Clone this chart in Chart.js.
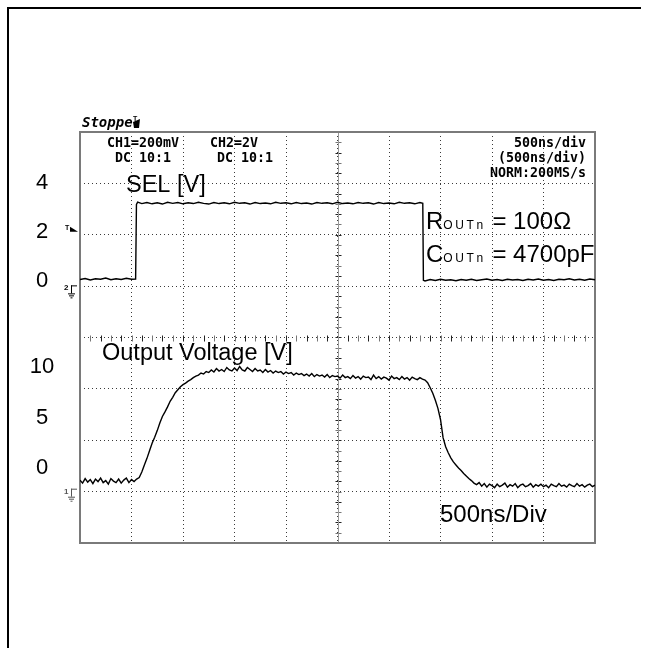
<!DOCTYPE html>
<html>
<head>
<meta charset="utf-8">
<script src="https://cdn.jsdelivr.net/npm/chart.js@4.4.1/dist/chart.umd.min.js"></script>
<style>
html,body{margin:0;padding:0;background:#fff;}
canvas{display:block;}
</style>
</head>
<body>
<canvas id="c" width="649" height="648"></canvas>
<script>
// ---- data (time in ns, 500 ns/div, 10 divisions) ----
const selTime = [0,50,100,150,200,250,300,350,400,450,500,540,548,560,600,650,700,750,800,850,900,950,1000,1050,1100,1150,1200,1250,1300,1350,1400,1450,1500,1550,1600,1650,1700,1750,1800,1850,1900,1950,2000,2050,2100,2150,2200,2250,2300,2350,2400,2450,2500,2550,2600,2650,2700,2750,2800,2850,2900,2950,3000,3050,3100,3150,3200,3250,3300,3328,3334,3350,3400,3450,3500,3550,3600,3650,3700,3750,3800,3850,3900,3950,4000,4050,4100,4150,4200,4250,4300,4350,4400,4450,4500,4550,4600,4650,4700,4750,4800,4850,4900,4950,5000];
const selVolt = [0.06,0.10,0.04,0.09,0.07,0.12,0.05,0.09,0.06,0.11,0.07,0.08,3.12,3.22,3.16,3.20,3.15,3.19,3.14,3.21,3.17,3.20,3.15,3.19,3.16,3.21,3.17,3.14,3.20,3.16,3.19,3.15,3.21,3.17,3.19,3.14,3.20,3.16,3.18,3.15,3.21,3.17,3.19,3.15,3.20,3.16,3.18,3.14,3.20,3.17,3.19,3.15,3.21,3.16,3.18,3.15,3.20,3.17,3.19,3.14,3.20,3.16,3.18,3.15,3.21,3.17,3.19,3.15,3.20,3.17,0.03,0.00,0.06,0.02,0.07,0.03,0.05,0.01,0.06,0.03,0.07,0.02,0.05,0.08,0.03,0.06,0.02,0.07,0.04,0.06,0.02,0.07,0.04,0.08,0.03,0.06,0.02,0.07,0.05,0.09,0.04,0.07,0.03,0.08,0.05];

// output voltage samples: [time ns, volts]
const outSamples = [
 [0,-1.20],[25,-1.50],[50,-1.05],[75,-1.40],[100,-1.15],[125,-1.55],[150,-1.10],[175,-1.35],[200,-1.00],[225,-1.45],
 [250,-1.25],[275,-1.60],[300,-1.05],[325,-1.30],[350,-1.45],[375,-1.10],[400,-1.50],[425,-1.20],[450,-1.00],[475,-1.45],
 [500,-1.15],[525,-1.35],[550,-1.10],[575,-0.95],[600,-0.40],[625,0.30],[650,0.95],[675,1.70],[700,2.45],[725,3.05],
 [750,3.70],[775,4.45],[800,5.10],[825,5.55],[850,6.05],[875,6.60],[900,7.00],[925,7.45],[950,7.75],[975,8.05],
 [1000,8.25],[1025,8.40],[1050,8.60],[1075,8.75],[1100,8.95],[1125,9.10],[1150,9.20],[1175,9.40],[1200,9.30],[1225,9.55],
 [1250,9.45],[1275,9.70],[1300,9.50],[1325,9.85],[1350,9.60],[1375,9.75],[1400,9.55],[1425,9.95],[1450,9.70],[1475,9.60],
 [1500,9.90],[1525,9.65],[1550,10.05],[1575,9.70],[1600,9.60],[1625,9.95],[1650,9.75],[1675,9.55],[1700,9.85],[1725,9.60],
 [1750,9.70],[1775,9.45],[1800,9.75],[1825,9.50],[1850,9.65],[1875,9.40],[1900,9.60],[1925,9.45],[1950,9.55],[1975,9.30],
 [2000,9.50],[2025,9.35],[2050,9.45],[2075,9.20],[2100,9.40],[2125,9.25],[2150,9.35],[2175,9.15],[2200,9.30],[2225,9.10],
 [2250,9.35],[2275,9.05],[2300,9.25],[2325,9.10],[2350,9.20],[2375,9.00],[2400,9.25],[2425,8.95],[2450,9.15],[2475,9.05],
 [2500,9.10],[2525,8.90],[2550,9.20],[2575,8.95],[2600,9.05],[2625,8.85],[2650,9.15],[2675,8.90],[2700,9.05],[2725,8.80],
 [2750,9.10],[2775,8.95],[2800,9.00],[2825,8.75],[2850,9.20],[2875,8.85],[2900,9.05],[2925,8.80],[2950,9.00],[2975,8.90],
 [3000,8.70],[3025,9.10],[3050,8.85],[3075,8.95],[3100,8.75],[3125,9.05],[3150,8.80],[3175,8.95],[3200,8.70],[3225,9.00],
 [3250,8.85],[3275,8.75],[3300,8.95],[3325,8.80],[3350,8.70],[3375,8.45],[3400,7.95],[3425,7.40],[3450,6.70],[3475,5.90],
 [3500,4.80],[3525,3.00],[3550,2.10],[3575,1.50],[3600,1.00],[3625,0.60],[3650,0.30],[3675,0.00],[3700,-0.25],[3725,-0.55],
 [3750,-0.80],[3775,-1.05],[3800,-1.25],[3825,-1.50],[3850,-1.65],[3875,-1.45],[3900,-1.80],[3925,-1.55],[3950,-1.90],[3975,-1.60],
 [4000,-1.75],[4025,-1.95],[4050,-1.60],[4075,-1.85],[4100,-1.70],[4125,-1.50],[4150,-1.90],[4175,-1.65],[4200,-1.80],[4225,-1.55],
 [4250,-1.95],[4275,-1.70],[4300,-1.60],[4325,-1.85],[4350,-1.75],[4375,-1.55],[4400,-1.90],[4425,-1.65],[4450,-1.80],[4475,-1.60],
 [4500,-1.85],[4525,-1.70],[4550,-1.95],[4575,-1.60],[4600,-1.75],[4625,-1.85],[4650,-1.55],[4675,-1.80],[4700,-1.70],[4725,-1.90],
 [4750,-1.60],[4775,-1.75],[4800,-1.85],[4825,-1.55],[4850,-1.80],[4875,-1.65],[4900,-1.90],[4925,-1.70],[4950,-1.60],[4975,-1.85],
 [5000,-1.70]
];

const selTicks = [0, 2, 4];
const outTicks = [0, 5, 10];
const headerLeft = [["CH1=200mV", "DC 10:1"], ["CH2=2V", "DC 10:1"]];
const headerRight = ["500ns/div", "(500ns/div)", "NORM:200MS/s"];

const toXY = (t, v) => t.map((x, i) => ({x: x, y: v[i]}));
const pairsXY = (p) => p.map(d => ({x: d[0], y: d[1]}));

const SANS = '"Liberation Sans", Arial, sans-serif';
const MONO = '"DejaVu Sans Mono", monospace';

const overlay = {
  id: 'overlay',
  beforeDatasetsDraw(chart) {
    const {ctx, chartArea: a, scales} = chart;
    const x = scales.x, y = scales.y;
    ctx.save();
    const cx = Math.round(x.getPixelForValue(2500)) + 0.5;
    const cy = Math.round(y.getPixelForValue(4)) + 0.5;
    ctx.lineWidth = 1;
    let k = 0;
    for (let t = 0; t <= 5000; t += 100, k++) {
      const px = Math.round(x.getPixelForValue(t)) + 0.5;
      ctx.strokeStyle = (k % 2) ? '#777' : '#222';
      ctx.beginPath(); ctx.moveTo(px, cy - 3); ctx.lineTo(px, cy + 3); ctx.stroke();
    }
    k = 0;
    for (let d = 0; d <= 8.001; d += 0.2, k++) {
      const py = Math.round(y.getPixelForValue(d)) + 0.5;
      ctx.strokeStyle = (k % 2) ? '#777' : '#222';
      ctx.beginPath(); ctx.moveTo(cx - 3, py); ctx.lineTo(cx + 3, py); ctx.stroke();
    }
    ctx.strokeStyle = '#999';
    ctx.beginPath(); ctx.moveTo(cx, a.top); ctx.lineTo(cx, a.bottom); ctx.stroke();
    ctx.strokeStyle = '#7a7a7a';
    ctx.lineWidth = 2;
    ctx.strokeRect(a.left, a.top, a.right - a.left, a.bottom - a.top);
    ctx.restore();
  },
  afterDraw(chart) {
    const {ctx, scales} = chart;
    const ySel = scales.ySel, yOut = scales.yOut;
    ctx.save();
    ctx.fillStyle = '#000';
    ctx.fillRect(7, 7, 2, 641);
    ctx.fillRect(7, 7, 634, 2);
    ctx.font = 'italic bold 14px ' + MONO;
    ctx.textBaseline = 'alphabetic';
    ctx.textAlign = 'left';
    ctx.fillText('Stoppe', 82, 127);
    ctx.font = 'bold 7px ' + SANS;
    ctx.fillText('T', 133, 121);
    ctx.beginPath();
    ctx.moveTo(133, 122); ctx.lineTo(140, 119); ctx.lineTo(139, 128); ctx.lineTo(134, 128); ctx.closePath(); ctx.fill();

    ctx.font = 'bold 13.3px ' + MONO;
    ctx.fillText(headerLeft[0][0], 107, 147);
    ctx.fillText(headerLeft[0][1], 115, 162);
    ctx.fillText(headerLeft[1][0], 210, 147);
    ctx.fillText(headerLeft[1][1], 217, 162);
    ctx.textAlign = 'right';
    ctx.fillText(headerRight[0], 586, 147);
    ctx.fillText(headerRight[1], 586, 162);
    ctx.fillText(headerRight[2], 586, 177);

    ctx.font = '22px ' + SANS;
    ctx.textAlign = 'center';
    ctx.textBaseline = 'middle';
    selTicks.forEach(v => ctx.fillText(String(v), 42, ySel.getPixelForValue(v)));
    outTicks.forEach(v => ctx.fillText(String(v), 42, yOut.getPixelForValue(v)));

    ctx.textAlign = 'left';
    ctx.textBaseline = 'alphabetic';
    const ty = ySel.getPixelForValue(2.05);
    ctx.font = 'bold 7px ' + SANS;
    ctx.fillText('T', 65, ty - 1);
    ctx.beginPath(); ctx.moveTo(70, ty - 4); ctx.lineTo(78, ty + 1); ctx.lineTo(70, ty + 1); ctx.closePath(); ctx.fill();
    const drawGnd = (label, gy, col) => {
      ctx.fillStyle = col; ctx.strokeStyle = col; ctx.lineWidth = 1;
      ctx.font = 'bold 8px ' + SANS;
      ctx.fillText(label, 64, gy + 2);
      ctx.beginPath();
      ctx.moveTo(71.5, gy - 3); ctx.lineTo(71.5, gy + 5);
      ctx.moveTo(71, gy - 2.5); ctx.lineTo(77, gy - 2.5);
      ctx.moveTo(68, gy + 5.5); ctx.lineTo(75, gy + 5.5);
      ctx.moveTo(69, gy + 7.5); ctx.lineTo(74, gy + 7.5);
      ctx.moveTo(70.5, gy + 9.5); ctx.lineTo(72.5, gy + 9.5);
      ctx.stroke();
    };
    drawGnd('2', ySel.getPixelForValue(-0.3), '#000');
    drawGnd('1', yOut.getPixelForValue(-2.35), '#555');

    ctx.fillStyle = '#000';
    ctx.font = '23.5px ' + SANS;
    ctx.fillText('SEL [V]', 126, 192);
    ctx.fillText('Output Voltage [V]', 102, 360);
    const sub = (big, x0, yb, rest) => {
      ctx.font = '24px ' + SANS;
      ctx.letterSpacing = '0px';
      ctx.fillText(big, x0, yb);
      let xx = x0 + ctx.measureText(big).width;
      ctx.font = '12px ' + SANS;
      ctx.letterSpacing = '2.6px';
      ctx.fillText('OUTn', xx, yb);
      xx += ctx.measureText('OUTn').width;
      ctx.letterSpacing = '0px';
      ctx.font = '24px ' + SANS;
      ctx.fillText(rest, xx, yb);
    };
    sub('R', 426, 229, ' = 100\u03A9');
    sub('C', 426, 262, ' = 4700pF');
    ctx.font = '24px ' + SANS;
    ctx.fillText('500ns/Div', 440, 522);
    ctx.restore();
  }
};

const gridColor = (c) => {
  const v = c.tick ? c.tick.value : null;
  const sc = c.scale;
  if (v === sc.min || v === sc.max) return 'rgba(0,0,0,0)';
  return '#3a3a3a';
};

new Chart(document.getElementById('c'), {
  type: 'line',
  data: {
    datasets: [
      {label: 'SEL [V]', data: toXY(selTime, selVolt), yAxisID: 'ySel', xAxisID: 'x',
       borderColor: '#000', borderWidth: 1.4, pointRadius: 0, tension: 0, fill: false},
      {label: 'Output Voltage [V]', data: pairsXY(outSamples), yAxisID: 'yOut', xAxisID: 'x',
       borderColor: '#000', borderWidth: 1.4, pointRadius: 0, tension: 0, fill: false}
    ]
  },
  options: {
    responsive: false,
    animation: false,
    devicePixelRatio: 1,
    layout: {padding: {left: 80, top: 132, right: 54, bottom: 105}},
    plugins: {legend: {display: false}, tooltip: {enabled: false}, title: {display: false}},
    elements: {point: {radius: 0}},
    scales: {
      x: {type: 'linear', position: 'bottom', min: 0, max: 5000,
          ticks: {display: false, stepSize: 500},
          grid: {drawTicks: false, color: gridColor, lineWidth: 1},
          border: {display: false, dash: [1, 3]},
          afterFit(s) { s.height = 0; }},
      y: {type: 'linear', position: 'left', min: 0, max: 8,
          ticks: {display: false, stepSize: 1},
          grid: {drawTicks: false, color: gridColor, lineWidth: 1},
          border: {display: false, dash: [1, 3]},
          afterFit(s) { s.width = 0; }},
      ySel: {type: 'linear', position: 'left', display: false, min: -10.69, max: 6.08},
      yOut: {type: 'linear', position: 'left', display: false, min: -7.43, max: 33.27}
    }
  },
  plugins: [overlay]
});
</script>
</body>
</html>
